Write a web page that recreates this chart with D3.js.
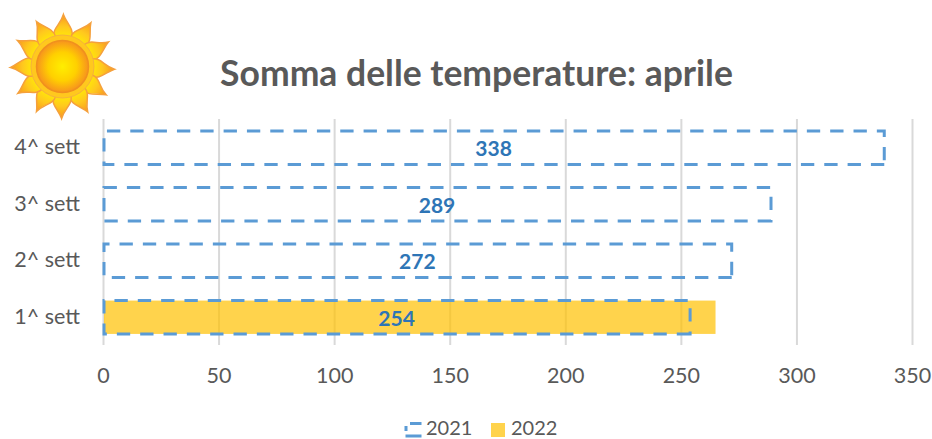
<!DOCTYPE html>
<html>
<head>
    <meta charset="utf-8" />
    <title>Somma delle temperature: aprile</title>
    <script src="https://cdn.jsdelivr.net/npm/d3@7"></script>
    <style>
        html, body { margin: 0; padding: 0; background: #fff; }
        svg { display: block; }
        text { font-family: Lato, "Open Sans", sans-serif; }
    </style>
</head>
<body>
<script charset="utf-8">

    var weeks = ['4^ sett', '3^ sett', '2^ sett', '1^ sett'];
    var values2021 = [338, 289, 272, 254];
    var values2022 = [null, null, null, 265];
    var ticks = [0, 50, 100, 150, 200, 250, 300, 350];

    var width = 932;
    var height = 439;
    var blue = '#5B9BD5';

    var svg = d3.select('body').append('svg').attr('width', width).attr('height', height);

    var x = d3.scaleLinear().domain([0, 350]).range([103, 912]);
    var y = d3.scaleBand().domain(weeks).range([119.5, 345.5]).paddingInner(0.41).paddingOuter(0.205);

    // griglia verticale e etichette asse x
    var xAxis = svg.append('g')
        .attr('transform', 'translate(0,345)')
        .call(d3.axisBottom(x).tickValues(ticks).tickSize(-226).tickPadding(23).tickFormat(d3.format('d')));
    xAxis.select('.domain').remove();
    xAxis.selectAll('line').attr('stroke', '#D9D9D9').attr('stroke-width', 2);
    xAxis.selectAll('text').attr('fill', '#595959').attr('font-size', '21.5px').style('font-family', 'Lato');

    // etichette categorie
    svg.selectAll('.week').data(weeks).enter().append('text')
        .attr('class', 'week')
        .attr('x', 80)
        .attr('y', function(d){ return y(d) + y.bandwidth() / 2 - 1; })
        .attr('dy', '0.35em')
        .attr('text-anchor', 'end')
        .attr('fill', '#595959')
        .attr('font-size', '21.5px')
        .text(function(d){ return d; });

    // barre 2022
    svg.selectAll('.b22').data(values2022).enter().filter(function(d){ return d !== null; }).append('rect')
        .attr('class', 'b22')
        .attr('x', x(0) + 1)
        .attr('y', function(d){ return y(weeks[values2022.indexOf(d)]); })
        .attr('width', function(d){ return x(d) - x(0) - 1; })
        .attr('height', y.bandwidth())
        .attr('fill', '#FFC000')
        .attr('fill-opacity', 0.7);

    // barre 2021 tratteggiate: il tratto parte dall'angolo in basso a destra
    svg.selectAll('.b21').data(values2021).enter().append('path')
        .attr('class', 'b21')
        .attr('d', function(d, i){
            var p = d3.path();
            var x0 = x(0) + 1, x1 = x(d), y0 = y(weeks[i]), y1 = y0 + y.bandwidth();
            p.moveTo(x1, y1);
            p.lineTo(x0, y1);
            p.lineTo(x0, y0);
            p.lineTo(x1, y0);
            p.closePath();
            return p.toString();
        })
        .attr('fill', 'none')
        .attr('stroke', blue)
        .attr('stroke-width', 3)
        .attr('stroke-dasharray', '13.33 10');

    // valori
    svg.selectAll('.val').data(values2021).enter().append('text')
        .attr('class', 'val')
        .attr('x', function(d){ return (x(0) + x(d)) / 2; })
        .attr('y', function(d, i){ return y(weeks[i]) + y.bandwidth() / 2 + 1; })
        .attr('dy', '0.35em')
        .attr('text-anchor', 'middle')
        .attr('fill', '#2E75B6')
        .attr('font-size', '21px')
        .attr('font-weight', 700)
        .text(function(d){ return d; });

    // titolo
    svg.append('text')
        .attr('x', 476.5)
        .attr('y', 86)
        .attr('text-anchor', 'middle')
        .attr('fill', '#595959')
        .attr('font-size', '35.5px')
        .attr('font-weight', 700)
        .text('Somma delle temperature: aprile');

    // legenda
    svg.append('path')
        .attr('d', 'M421.5,423.5H410M406,426V431M405.5,436H421.5')
        .attr('fill', 'none')
        .attr('stroke', blue)
        .attr('stroke-width', 3);
    svg.append('text').attr('x', 426).attr('y', 435).attr('fill', '#595959').attr('font-size', '20px').text('2021');
    svg.append('rect').attr('x', 491).attr('y', 423).attr('width', 14).attr('height', 14).attr('fill', '#FFC000').attr('fill-opacity', 0.7);
    svg.append('text').attr('x', 511).attr('y', 435).attr('fill', '#595959').attr('font-size', '20px').text('2022');

    // sole
    var rayAngles = [1, 33, 62, 93, 123, 151, 181, 210, 239, 269, 300, 330];
    var defs = svg.append('defs');
    var rg = defs.append('radialGradient').attr('id', 'disc');
    rg.append('stop').attr('offset', '0%').attr('stop-color', '#FFEE00');
    rg.append('stop').attr('offset', '55%').attr('stop-color', '#FFD000');
    rg.append('stop').attr('offset', '100%').attr('stop-color', '#F7931E');
    var rayG = defs.append('radialGradient').attr('id', 'ray').attr('gradientUnits', 'userSpaceOnUse').attr('cx', 0).attr('cy', 0).attr('r', 53);
    rayG.append('stop').attr('offset', '50%').attr('stop-color', '#FFF200');
    rayG.append('stop').attr('offset', '75%').attr('stop-color', '#FFC81E');
    rayG.append('stop').attr('offset', '100%').attr('stop-color', '#F7941E');

    var sun = svg.append('g').attr('transform', 'translate(62.5,66.5)');
    sun.selectAll('.ray').data(rayAngles).enter().append('path')
        .attr('class', 'ray')
        .attr('d', 'M-9,-29C-11,-38 -3,-41 0,-52C3,-44 11,-38 9,-29Z')
        .attr('transform', function(d){ return 'rotate(' + d + ')'; })
        .attr('fill', 'url(#ray)')
        .attr('stroke', '#F5A03C')
        .attr('stroke-width', 1.5);
    sun.append('circle').attr('r', 31.5).attr('fill', '#FFC81E').attr('stroke', '#F5B23C').attr('stroke-width', 1);
    sun.append('circle').attr('r', 26).attr('fill', 'url(#disc)').attr('stroke', '#F0901E').attr('stroke-width', 1.5);

</script>
</body>
</html>
